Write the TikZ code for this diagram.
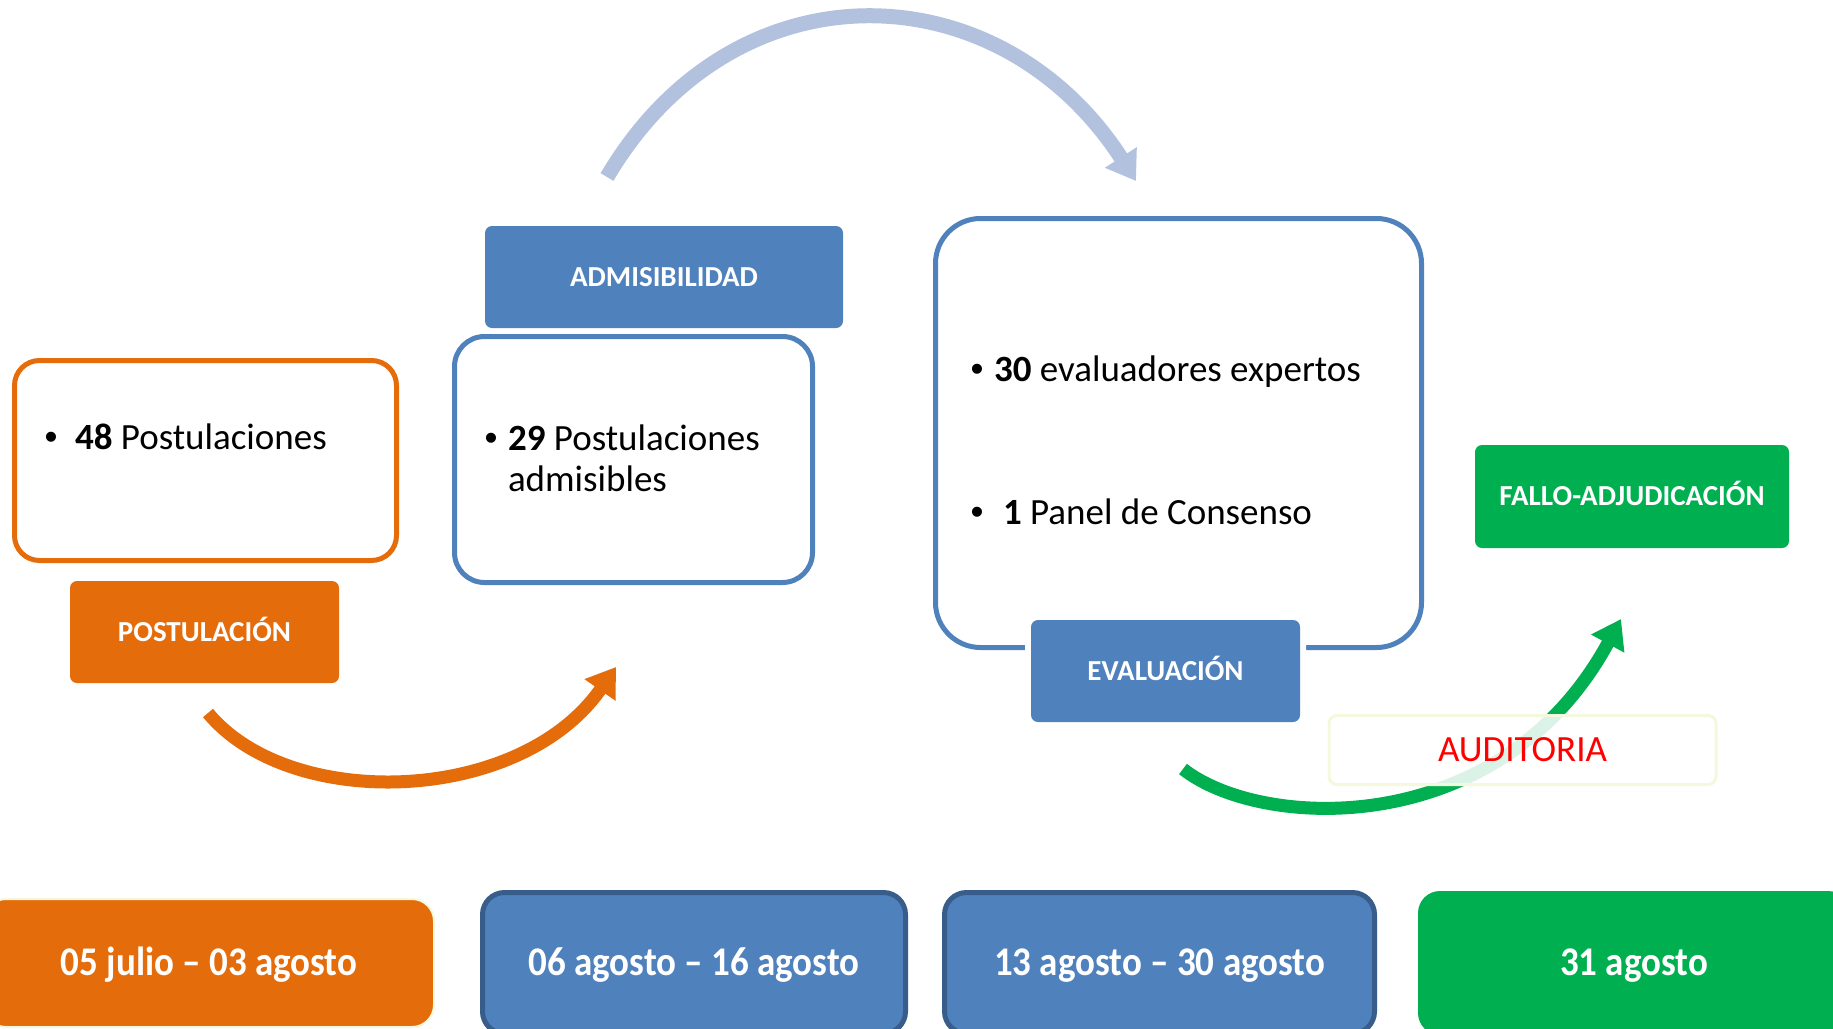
\documentclass[tikz,border=0pt]{standalone}
\usepackage{fontspec}
\setmainfont{Carlito}
\newfontfamily\bulfont{Liberation Sans}
\usetikzlibrary{arrows.meta}
\definecolor{orng}{HTML}{E46C0A}
\definecolor{blu}{HTML}{4F81BD}
\definecolor{dblu}{HTML}{385D8A}
\definecolor{grn}{HTML}{00B050}
\definecolor{lblu}{HTML}{B2C2DE}
\definecolor{ylw}{HTML}{F4F9DD}
\definecolor{audred}{HTML}{FF0000}
\begin{document}
\begin{tikzpicture}[x=1pt,y=-1pt,
  every node/.style={inner sep=0pt, outer sep=0pt},
  panel/.style={draw, line width=5pt, rounded corners=#1, fill=white},
  panel/.default=25pt,
  tag/.style={rounded corners=7pt, text=white, text height=18.7pt, text depth=0pt,
    font=\fontsize{29}{34}\selectfont\bfseries},
  body/.style={anchor=base west, font=\fontsize{37}{44}\selectfont},
  bul/.style={anchor=base, font=\bulfont\fontsize{37}{44}\selectfont},
  datebox/.style={rounded corners=22pt, text=white, text height=25.7pt, text depth=0pt,
    font=\fontsize{37}{44}\selectfont\bfseries},
  flow/.style={line width=14pt, -{Triangle[length=28pt,width=36pt]}},
]
\clip (0,0) rectangle (1833,1028);
\fill[white] (0,0) rectangle (1833,1028);

% panels
\node[panel=25pt, draw=orng, minimum width=382pt, minimum height=200pt] (p1) at (205.5,460.5) {};
\node[panel=30pt, draw=blu, minimum width=358pt, minimum height=246pt] (p2) at (633.5,459.5) {};
\node[panel=45pt, draw=blu, minimum width=486pt, minimum height=429pt] (p3) at (1178.5,433) {};

% panel texts
\node[bul] (b1) at (51,449) {•};
\node[body] (t1) at (75,449) {\textbf{48} Postulaciones};
\node[bul] (b2) at (491,450) {•};
\node[body] (t2a) at (508,450) {\textbf{29} Postulaciones};
\node[body] (t2b) at (508,491) {admisibles};
\node[bul] (b3) at (977,381) {•};
\node[body] (t3) at (994,381) {\textbf{30} evaluadores expertos};
\node[bul] (b4) at (977,524) {•};
\node[body] (t4) at (1003,524) {\textbf{1} Panel de Consenso};

% tags
\node[tag, fill=orng, minimum width=269pt, minimum height=102pt] (tpost) at (204.5,632) {POSTULACIÓN};
\node[tag, fill=blu, minimum width=358pt, minimum height=102pt] (tadm) at (664,277) {ADMISIBILIDAD};
\node[tag, fill=blu, minimum width=269pt, minimum height=102pt,
  preaction={draw=white, line width=12pt}] (teval) at (1165.5,671) {EVALUACIÓN};
\node[tag, fill=grn, minimum width=314pt, minimum height=103pt] (tfallo) at (1632,496.5) {FALLO-ADJUDICACIÓN};

% arrows
\coordinate (oa1) at (208,713);
\coordinate (oa2) at (616,667);
\draw[flow, orng, line width=13pt] (oa1) .. controls (290,812) and (520,805) .. (oa2);
\coordinate (ba1) at (607,177);
\coordinate (ba2) at (1136,181);
\draw[flow, lblu, line width=15pt] (ba1) .. controls (735,-40) and (1000,-30) .. (ba2);
\coordinate (ga1) at (1183,769);
\coordinate (ga2) at (1621,619);
\draw[flow, grn, line width=13pt] (ga1) .. controls (1260,830) and (1500,842) .. (ga2);

% auditoria
\node[draw=ylw, line width=3pt, rounded corners=8pt, fill=white, fill opacity=0.86, text opacity=1,
  minimum width=387pt, minimum height=69pt, text=audred, text height=23.8pt, text depth=0pt,
  font=\fontsize{37}{44}\selectfont] (aud) at (1522.5,750) {AUDITORIA};

% date boxes
\node[datebox, fill=orng, draw=ylw, line width=2pt, minimum width=450pt, minimum height=128pt] (d1) at (209,963)
  {\scalebox{1}[1.1]{05 julio – 03 agosto}};
\node[datebox, fill=blu, draw=dblu, line width=5pt, minimum width=423pt, minimum height=141pt] (d2) at (694,963)
  {\scalebox{1}[1.1]{06 agosto – 16 agosto}};
\node[datebox, fill=blu, draw=dblu, line width=5pt, minimum width=430pt, minimum height=141pt] (d3) at (1159.5,963)
  {\scalebox{1}[1.1]{13 agosto – 30 agosto}};
\node[datebox, fill=grn, minimum width=432pt, minimum height=144pt] (d4) at (1634,963)
  {\scalebox{1}[1.1]{31 agosto}};
\end{tikzpicture}
\end{document}
